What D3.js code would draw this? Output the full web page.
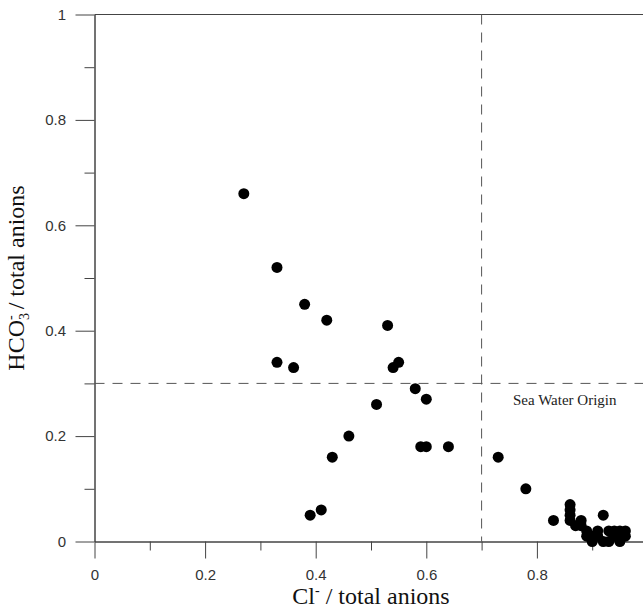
<!DOCTYPE html>
<html>

<head>
    <script type="text/javascript" src="https://d3js.org/d3.v7.min.js"></script>
    <style>
        body { margin: 0; background: #fff; }
    </style>
</head>

<body>
    <script>
        // chart area is 643 x 612, same as the window
        var width = 643;
        var height = 612;

        // Cl- / total anions (x) and HCO3- / total anions (y)
        var clRatio = [0.27, 0.33, 0.38, 0.42, 0.53, 0.33, 0.36, 0.55, 0.54, 0.58, 0.60,
            0.51, 0.46, 0.43, 0.59, 0.60, 0.64, 0.39, 0.41, 0.73, 0.78, 0.83,
            0.86, 0.86, 0.86, 0.86, 0.87, 0.88, 0.88, 0.89, 0.89, 0.90, 0.90, 0.91,
            0.92, 0.92, 0.93, 0.93, 0.94, 0.95, 0.95, 0.96, 0.96, 0.91, 0.94];
        var hco3Ratio = [0.66, 0.52, 0.45, 0.42, 0.41, 0.34, 0.33, 0.34, 0.33, 0.29, 0.27,
            0.26, 0.20, 0.16, 0.18, 0.18, 0.18, 0.05, 0.06, 0.16, 0.10, 0.04,
            0.07, 0.06, 0.05, 0.04, 0.03, 0.03, 0.04, 0.02, 0.01, 0.00, 0.01, 0.01,
            0.05, 0.00, 0.02, 0.00, 0.01, 0.02, 0.00, 0.02, 0.01, 0.02, 0.02];

        var yMajorTicks = [0, 0.2, 0.4, 0.6, 0.8, 1];
        var xMajorTicks = [0, 0.2, 0.4, 0.6, 0.8]; // 1 falls just past the right edge
        var minorTicks = [0.1, 0.3, 0.5, 0.7, 0.9];
        var tickLabels = ['0', '0.2', '0.4', '0.6', '0.8', '1'];

        // dividing lines
        var clLimit = 0.7;
        var hco3Limit = 0.3;

        var x = d3.scaleLinear().domain([0, 1]).range([94.5, 647.5]);
        var y = d3.scaleLinear().domain([0, 1]).range([541.5, 14.5]);

        var svg = d3.select('body').append('svg').attr('width', width).attr('height', height);

        var axisColor = '#444';

        // minor ticks first (shorter), then the labelled major ticks
        svg.append('g').attr('transform', 'translate(0,' + y(0) + ')')
            .call(d3.axisBottom(x).tickValues(minorTicks).tickSize(9).tickSizeOuter(0).tickFormat(''));
        svg.append('g').attr('transform', 'translate(' + x(0) + ',0)')
            .call(d3.axisLeft(y).tickValues(minorTicks).tickSize(10).tickSizeOuter(0).tickFormat(''));

        svg.append('g').attr('transform', 'translate(0,' + y(0) + ')')
            .call(d3.axisBottom(x).tickValues(xMajorTicks).tickSize(17).tickSizeOuter(0).tickPadding(11)
                .tickFormat(function(d, i) { return tickLabels[i]; }));
        svg.append('g').attr('transform', 'translate(' + x(0) + ',0)')
            .call(d3.axisLeft(y).tickValues(yMajorTicks).tickSize(19).tickSizeOuter(0).tickPadding(9.5)
                .tickFormat(function(d, i) { return tickLabels[i]; }));

        svg.selectAll('.domain, .tick line').attr('stroke', axisColor);
        svg.selectAll('.tick text').attr('fill', '#333')
            .style('font-family', 'Arial, "Liberation Sans", sans-serif').style('font-size', '15px');

        // top frame line
        svg.append('line')
            .attr('x1', x(0)).attr('x2', x(1))
            .attr('y1', y(1)).attr('y2', y(1))
            .attr('stroke', axisColor);

        // dashed divisions
        svg.append('line')
            .attr('x1', x(clLimit)).attr('x2', x(clLimit))
            .attr('y1', y(1)).attr('y2', y(0))
            .attr('stroke', '#555').attr('stroke-dasharray', '10,8');
        svg.append('line')
            .attr('x1', x(0)).attr('x2', x(1))
            .attr('y1', y(hco3Limit)).attr('y2', y(hco3Limit))
            .attr('stroke', '#555').attr('stroke-dasharray', '10,8');

        var serif = '"Times New Roman", "Liberation Serif", serif';

        svg.append('text')
            .attr('x', 513).attr('y', 405)
            .style('font-family', serif)
            .style('font-size', '15px')
            .attr('fill', '#222')
            .text('Sea Water Origin');

        // points
        svg.selectAll('circle.pt')
            .data(clRatio)
            .enter()
            .append('circle')
            .attr('class', 'pt')
            .attr('cx', function(d) { return x(d); })
            .attr('cy', function(d, i) { return y(hco3Ratio[i]); })
            .attr('r', 5.5)
            .attr('fill', '#000');

        // axis titles
        var xTitle = svg.append('text')
            .attr('x', (x(0) + x(1)) / 2).attr('y', 604)
            .attr('text-anchor', 'middle')
            .style('font-family', serif).style('font-size', '24px')
            .attr('fill', '#111');
        xTitle.append('tspan').text('Cl');
        xTitle.append('tspan').attr('dy', -9).style('font-size', '14px').text('-');
        xTitle.append('tspan').attr('dy', 9).text(' / total anions');

        var yTitle = svg.append('text')
            .attr('transform', 'translate(24,' + (y(0) + y(1)) / 2 + ') rotate(-90)')
            .attr('text-anchor', 'middle')
            .style('font-family', serif).style('font-size', '24px')
            .attr('fill', '#111');
        yTitle.append('tspan').text('HCO');
        yTitle.append('tspan').attr('dy', 5).style('font-size', '14px').text('3');
        yTitle.append('tspan').attr('dx', -7).attr('dy', -14).style('font-size', '14px').text('-');
        yTitle.append('tspan').attr('dy', 9).text(' / total anions');
    </script>
</body>

</html>
